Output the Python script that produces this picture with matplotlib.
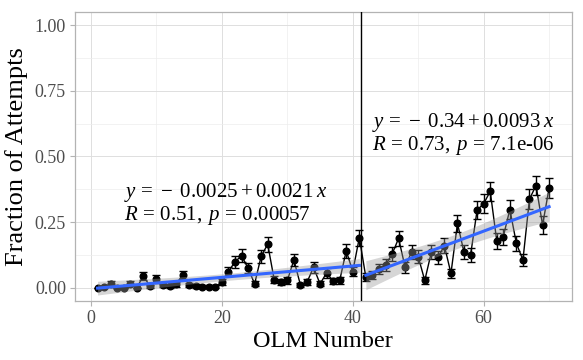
import numpy as np
import matplotlib
matplotlib.use('Agg')
import matplotlib.pyplot as plt
from matplotlib.ticker import MultipleLocator, FormatStrFormatter

plt.rcParams['font.family'] = ['Liberation Serif', 'DejaVu Serif']
plt.rcParams['mathtext.fontset'] = 'custom'
plt.rcParams['mathtext.rm'] = 'Liberation Serif'
plt.rcParams['mathtext.it'] = 'Liberation Serif:italic'

# fraction of attempts per OLM number
olm = np.arange(1, 71)
frac = np.array([
    0.0, 0.003, 0.016, 0.0, 0.0, 0.015, 0.0, 0.046, 0.006, 0.034,
    0.009, 0.006, 0.014, 0.049, 0.010, 0.007, 0.005, 0.004, 0.005, 0.021,
    0.062, 0.099, 0.122, 0.075, 0.015, 0.120, 0.166, 0.030, 0.021, 0.028,
    0.106, 0.011, 0.021, 0.078, 0.015, 0.057, 0.025, 0.028, 0.141, 0.062,
    0.191,
    0.040, 0.049, 0.072, 0.087, 0.128, 0.188, 0.078, 0.138, 0.118, 0.028,
    0.135, 0.116, 0.160, 0.055, 0.245, 0.135, 0.125, 0.296, 0.320, 0.367,
    0.179, 0.195, 0.298, 0.169, 0.106, 0.338, 0.389, 0.239, 0.380,
])
n_attempts = 170
split = 41.3

label_left = '$y\\,=\\,-\\;0.0025+0.0021\\;x$\n$R\\,=\\,0.51,\\;p\\,=\\,0.00057$'
label_right = '$y\\,=\\,-\\;0.34+0.0093\\;x$\n$R\\,=\\,0.73,\\;p\\,=\\,$7.1e-06'

se = np.sqrt(frac * (1 - frac) / n_attempts)

fig = plt.figure(figsize=(5.83, 3.6), dpi=100)
ax = fig.add_axes([0.1286, 0.164, 0.852, 0.803])

ax.errorbar(olm, frac, yerr=se, fmt='o-', color='black', ms=4.8, lw=1,
            capsize=2.8, elinewidth=1, capthick=1, zorder=3)


def smooth(x, y):
    b, a = np.polyfit(x, y, 1)
    xs = np.linspace(x.min(), x.max(), 80)
    fit = a + b * xs
    resid = y - (a + b * x)
    n = len(x)
    s = np.sqrt(np.sum(resid ** 2) / (n - 2))
    sx = np.sum((x - x.mean()) ** 2)
    band = 2.02 * s * np.sqrt(1 / n + (xs - x.mean()) ** 2 / sx)
    ax.fill_between(xs, fit - band, fit + band, color='#999999', alpha=0.4,
                    lw=0, zorder=4)
    ax.plot(xs, fit, color='#3366FF', lw=2.2, zorder=5)


left = olm < split
smooth(olm[left], frac[left])
smooth(olm[~left], frac[~left])

ax.axvline(split, color='black', lw=1, zorder=6)

ax.text(5, 0.32, label_left, fontsize=15, va='center', ha='left',
        linespacing=1.0, zorder=7)
ax.text(43, 0.585, label_right, fontsize=15, va='center', ha='left',
        linespacing=1.0, zorder=7)

ax.set_xlim(-2.45, 73.45)
ax.set_ylim(-0.05, 1.05)
ax.xaxis.set_major_locator(MultipleLocator(20))
ax.xaxis.set_minor_locator(MultipleLocator(10))
ax.yaxis.set_major_locator(MultipleLocator(0.25))
ax.yaxis.set_minor_locator(MultipleLocator(0.125))
ax.yaxis.set_major_formatter(FormatStrFormatter('%.2f'))

ax.grid(which='major', color='#DEDEDE', lw=0.7)
ax.grid(which='minor', color='#EDEDED', lw=0.5)
ax.set_axisbelow(True)
for sp in ax.spines.values():
    sp.set_color('#B3B3B3')
    sp.set_linewidth(0.9)
ax.tick_params(which='major', length=3.5, color='#B3B3B3', labelsize=13,
               labelcolor='#4D4D4D', pad=3)
ax.tick_params(which='minor', length=0)

ax.set_xlabel('OLM Number', fontsize=17.5, labelpad=3)
ax.set_ylabel('Fraction of Attempts', fontsize=19, labelpad=5)

fig.savefig('out.png', dpi=100)
